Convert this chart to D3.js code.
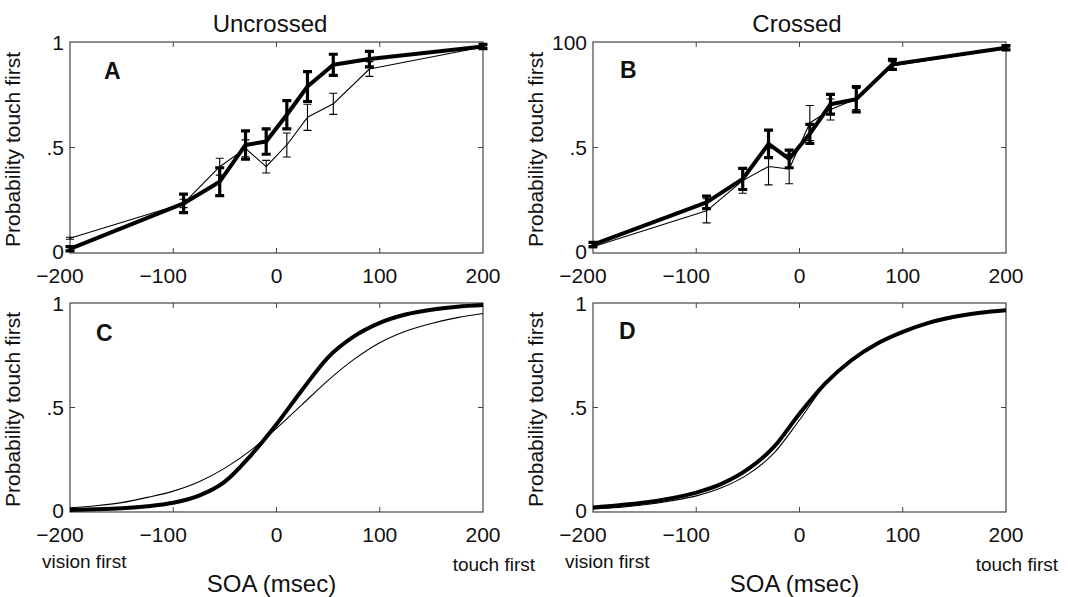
<!DOCTYPE html>
<html>
<head>
<meta charset="utf-8">
<script src="https://cdn.jsdelivr.net/npm/d3@7"></script>
<style>
  body { margin: 0; background: #fff; }
  text { font-family: "Liberation Sans", Arial, Helvetica, sans-serif; fill: #111; }
</style>
</head>
<body>
<script>
const width = 1068;
const height = 597;

// SOA values (msec) for the data panels
const soa = [-200, -90, -55, -30, -10, 10, 30, 55, 90, 200];

// panel A: uncrossed
const uncrossedThick = [0.02, 0.235, 0.338, 0.512, 0.528, 0.655, 0.789, 0.892, 0.919, 0.979];
const uncrossedThickErr = [0.01, 0.044, 0.066, 0.067, 0.06, 0.067, 0.071, 0.05, 0.037, 0.01];
const uncrossedThin = [0.07, 0.235, 0.409, 0.496, 0.409, 0.512, 0.643, 0.707, 0.872, 0.976];
const uncrossedThinErr = [0.005, 0.02, 0.04, 0.04, 0.03, 0.057, 0.062, 0.05, 0.035, 0.005];

// panel B: crossed
const crossedThick = [0.04, 0.24, 0.351, 0.517, 0.446, 0.565, 0.705, 0.729, 0.894, 0.973];
const crossedThickErr = [0.01, 0.03, 0.05, 0.065, 0.042, 0.045, 0.047, 0.06, 0.024, 0.01];
const crossedThin = [0.03, 0.2, 0.343, 0.41, 0.398, 0.616, 0.68, 0.73, 0.887, 0.97];
const crossedThinErr = [0.005, 0.057, 0.06, 0.087, 0.07, 0.083, 0.05, 0.05, 0.02, 0.005];

// fitted curves, read every 25 msec
const fitSoa = [-200, -175, -150, -125, -100, -75, -50, -25, 0, 25, 50, 75, 100, 125, 150, 175, 200];
const fitUncrossedThick = [0.01, 0.013, 0.018, 0.027, 0.044, 0.078, 0.145, 0.27, 0.42, 0.585, 0.74, 0.84, 0.905, 0.945, 0.968, 0.982, 0.99];
const fitUncrossedThin = [0.02, 0.03, 0.045, 0.07, 0.1, 0.145, 0.21, 0.295, 0.40, 0.515, 0.63, 0.73, 0.81, 0.865, 0.902, 0.93, 0.95];
const fitCrossedThick = [0.022, 0.032, 0.045, 0.065, 0.093, 0.136, 0.205, 0.31, 0.47, 0.615, 0.725, 0.805, 0.862, 0.905, 0.934, 0.953, 0.965];
const fitCrossedThin = [0.015, 0.022, 0.035, 0.053, 0.077, 0.117, 0.18, 0.28, 0.44, 0.61, 0.725, 0.805, 0.862, 0.905, 0.934, 0.953, 0.965];

const xTicks = [-200, -100, 0, 100, 200];
const yTicks = [0, 0.5, 1];
const yLabelsStd = ["0", ".5", "1"];
const yLabelsB = ["0", ".5", "100"];

const panels = [
  { letter: "A", x: 70, y: 42, w: 413, h: 211, lx: 34, ly: 37, yLabels: yLabelsStd, points: true,
    thick: uncrossedThick, thickErr: uncrossedThickErr, thin: uncrossedThin, thinErr: uncrossedThinErr },
  { letter: "B", x: 593, y: 42, w: 413, h: 211, lx: 27, ly: 36, yLabels: yLabelsB, points: true,
    thick: crossedThick, thickErr: crossedThickErr, thin: crossedThin, thinErr: crossedThinErr },
  { letter: "C", x: 70, y: 303, w: 413, h: 209, lx: 26, ly: 38, yLabels: yLabelsStd, points: false,
    thick: fitUncrossedThick, thin: fitUncrossedThin },
  { letter: "D", x: 593, y: 303, w: 413, h: 209, lx: 26, ly: 36, yLabels: yLabelsStd, points: false,
    thick: fitCrossedThick, thin: fitCrossedThin }
];

const svg = d3.select("body").append("svg")
    .attr("width", width)
    .attr("height", height);

const fmtX = d => d < 0 ? "\u2212" + Math.abs(d) : String(d);

panels.forEach(p => {
  const g = svg.append("g").attr("transform", `translate(${p.x},${p.y})`);
  const x = d3.scaleLinear().domain([-200, 200]).range([0, p.w]);
  const y = d3.scaleLinear().domain([0, 1]).range([p.h, 0]);

  // box
  g.append("rect")
      .attr("width", p.w).attr("height", p.h)
      .attr("fill", "none").attr("stroke", "#444").attr("stroke-width", 1.2);

  // inward ticks on all four sides
  const inner = xTicks.slice(1, -1);
  g.selectAll(".xt").data(inner).enter().append("path")
      .attr("d", d => `M${x(d)},${p.h}v-5M${x(d)},0v5`)
      .attr("stroke", "#444");
  g.append("path")
      .attr("d", `M0,${y(0.5)}h5M${p.w},${y(0.5)}h-5`)
      .attr("stroke", "#444");

  // tick labels
  g.selectAll(".xl").data(xTicks).enter().append("text")
      .attr("x", d => x(d) + (d < 0 ? -10 : 0))
      .attr("y", p.h + 30)
      .attr("text-anchor", "middle")
      .style("font-size", "21px")
      .text(fmtX);
  g.selectAll(".yl").data(yTicks).enter().append("text")
      .attr("x", -6)
      .attr("y", d => y(d) - (d === 0 ? 2 : 0))
      .attr("dy", "0.36em")
      .attr("text-anchor", "end")
      .style("font-size", "21px")
      .text((d, i) => p.yLabels[i]);

  // y axis title
  g.append("text")
      .attr("transform", `translate(-50,${p.h / 2 + 2}) rotate(-90)`)
      .attr("text-anchor", "middle")
      .style("font-size", "21px")
      .text("Probability touch first");

  // panel letter
  g.append("text")
      .attr("x", p.lx).attr("y", p.ly)
      .style("font-size", "23px").style("font-weight", "bold")
      .text(p.letter);

  if (p.points) {
    const line = d3.line().x((d, i) => x(soa[i])).y(d => y(d));
    const series = [
      { v: p.thin, e: p.thinErr, w: 1.1, ew: 1.1, cap: 8 },
      { v: p.thick, e: p.thickErr, w: 4, ew: 3.2, cap: 9 }
    ];
    series.forEach(s => {
      g.append("path").datum(s.v)
          .attr("d", line)
          .attr("fill", "none").attr("stroke", "#000")
          .attr("stroke-width", s.w).attr("stroke-linejoin", "round");
      g.selectAll(null).data(s.v).enter().append("path")
          .attr("d", (d, i) => {
            const cx = x(soa[i]), y1 = y(d + s.e[i]), y2 = y(d - s.e[i]), c = s.cap / 2;
            return `M${cx},${y1}V${y2}M${cx - c},${y1}H${cx + c}M${cx - c},${y2}H${cx + c}`;
          })
          .attr("fill", "none").attr("stroke", "#000").attr("stroke-width", s.ew);
    });
  } else {
    const line = d3.line().x((d, i) => x(fitSoa[i])).y(d => y(d)).curve(d3.curveMonotoneX);
    g.append("path").datum(p.thin).attr("d", line)
        .attr("fill", "none").attr("stroke", "#000").attr("stroke-width", 1.1);
    g.append("path").datum(p.thick).attr("d", line)
        .attr("fill", "none").attr("stroke", "#000").attr("stroke-width", 4);

    // bottom annotations
    g.append("text").attr("x", -28).attr("y", p.h + 56)
        .style("font-size", "19px").text("vision first");
    g.append("text").attr("x", p.w + 52).attr("y", p.h + 59)
        .attr("text-anchor", "end")
        .style("font-size", "19px").text("touch first");
    g.append("text").attr("x", p.w / 2 - 5).attr("y", p.h + 80)
        .attr("text-anchor", "middle")
        .style("font-size", "24px").text("SOA (msec)");
  }
});

svg.append("text").attr("x", 270).attr("y", 32)
    .attr("text-anchor", "middle").style("font-size", "24px").text("Uncrossed");
svg.append("text").attr("x", 797).attr("y", 32)
    .attr("text-anchor", "middle").style("font-size", "24px").text("Crossed");
</script>
</body>
</html>
